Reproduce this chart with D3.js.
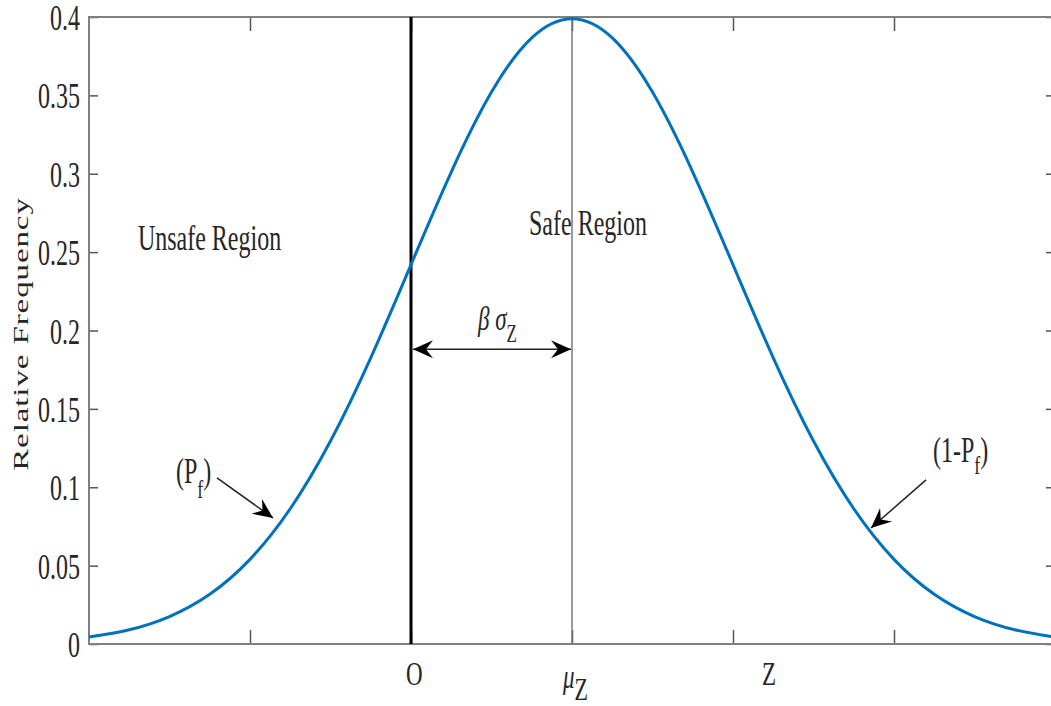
<!DOCTYPE html>
<html>
<head>
<meta charset="utf-8">
<script src="https://cdn.jsdelivr.net/npm/d3@7"></script>
<style>
  body { margin: 0; background: #fff; }
  svg { display: block; }
</style>
</head>
<body>
<script>
// curve (z in sigma units, relative frequency)
var zValues = [-3, -2.75, -2.5, -2.25, -2, -1.75, -1.5, -1.25, -1, -0.75, -0.5, -0.25, 0,
               0.25, 0.5, 0.75, 1, 1.25, 1.5, 1.75, 2, 2.25, 2.5, 2.75, 3];
var freqValues = [0.0044, 0.0091, 0.0175, 0.0317, 0.0540, 0.0863, 0.1295, 0.1826, 0.2420, 0.3011, 0.3521, 0.3867, 0.3989,
                  0.3867, 0.3521, 0.3011, 0.2420, 0.1826, 0.1295, 0.0863, 0.0540, 0.0317, 0.0175, 0.0091, 0.0044];
var yTicks = [0, 0.05, 0.1, 0.15, 0.2, 0.25, 0.3, 0.35, 0.4];
var yTickLabels = ['0', '0.05', '0.1', '0.15', '0.2', '0.25', '0.3', '0.35', '0.4'];
var xTicks = [-2, -1, 0, 1, 2];

var W = 1051, H = 706;
var K = 1.45; // vertical stretch of the text in the picture
var font = '"Liberation Serif","Times New Roman",serif';
var ink = '#262626';

var svg = d3.select('body').append('svg')
  .attr('width', W)
  .attr('height', H)
  .style('font-family', font);

var x = d3.scaleLinear().domain([-3, 3]).range([89, 1055]);
var y = d3.scaleLinear().domain([0, 0.4]).range([644, 17]);

var defs = svg.append('defs');
defs.append('marker')
  .attr('id', 'ah')
  .attr('markerUnits', 'userSpaceOnUse')
  .attr('viewBox', '-20 -10 20 20')
  .attr('refX', 0).attr('refY', 0)
  .attr('markerWidth', 20).attr('markerHeight', 20)
  .attr('orient', 'auto-start-reverse')
  .append('path')
  .attr('d', 'M0,0 L-20,-9 L-13,0 L-20,9 Z')
  .attr('fill', '#000');

// axes ticks (inward)
svg.append('g').attr('transform', 'translate(0,' + y(0) + ')')
  .call(d3.axisBottom(x).tickValues(xTicks).tickSize(-14).tickFormat(''));
svg.append('g').attr('transform', 'translate(0,' + y(0.4) + ')')
  .call(d3.axisTop(x).tickValues(xTicks).tickSize(-14).tickFormat(''));
svg.append('g').attr('transform', 'translate(' + x(-3) + ',0)')
  .call(d3.axisLeft(y).tickValues(yTicks).tickSize(-9).tickFormat(''));
svg.append('g').attr('transform', 'translate(' + x(3) + ',0)')
  .call(d3.axisRight(y).tickValues(yTicks).tickSize(-9).tickFormat(''));
svg.selectAll('.domain').remove();
svg.selectAll('.tick line').attr('stroke', '#555').attr('stroke-width', 1.5);

// frame
svg.append('rect')
  .attr('x', x(-3)).attr('y', y(0.4))
  .attr('width', x(3) - x(-3)).attr('height', y(0) - y(0.4))
  .attr('fill', 'none').attr('stroke', '#808080').attr('stroke-width', 2);

// reference lines at 0 and mu
svg.append('line')
  .attr('x1', x(-1)).attr('x2', x(-1)).attr('y1', y(0)).attr('y2', y(0.4))
  .attr('stroke', '#000').attr('stroke-width', 3);
svg.append('line')
  .attr('x1', x(0)).attr('x2', x(0)).attr('y1', y(0)).attr('y2', y(0.4))
  .attr('stroke', '#777').attr('stroke-width', 1.5);

// curve
var pts = zValues.map(function(z, i) { return [z, freqValues[i]]; });
svg.append('path')
  .datum(pts)
  .attr('fill', 'none')
  .attr('stroke', '#0072BD')
  .attr('stroke-width', 3)
  .attr('d', d3.line()
    .x(function(d) { return x(d[0]); })
    .y(function(d) { return y(d[1]); })
    .curve(d3.curveNatural));

// stretched text helper: parts = [text, size, baseline offset, italic]
function label(px, py, parts, anchor) {
  var t = svg.append('text')
    .attr('transform', 'translate(' + px + ',' + py + ') scale(1,' + K + ')')
    .attr('fill', ink)
    .attr('text-anchor', anchor || 'start');
  var prev = 0;
  parts.forEach(function(p) {
    t.append('tspan')
      .attr('font-size', p[1])
      .attr('font-style', p[3] ? 'italic' : 'normal')
      .attr('dy', (p[2] - prev) / K)
      .text(p[0]);
    prev = p[2];
  });
  return t;
}

// y tick labels
yTicks.forEach(function(v, i) {
  label(80, y(v) + 13, [[yTickLabels[i], 24, 0]], 'end');
});

// x labels
label(x(-0.98), 685, [['O', 23, 0]], 'middle');
label(x(-0.056), 688, [['\u03bc', 23, 0, true], ['Z', 22, 12]]);
label(x(1.18), 685, [['Z', 23, 0]]);

// y axis title
svg.append('text')
  .attr('transform', 'translate(28,334) scale(1,1.5) rotate(-90)')
  .attr('text-anchor', 'middle')
  .attr('font-size', 22)
  .attr('letter-spacing', 0.6)
  .attr('fill', ink)
  .text('Relative Frequency');

// region labels
label(x(-2.696), y(0.2515), [['Unsafe Region', 24, 0]]);
label(x(-0.267), y(0.261), [['Safe Region', 24, 0]]);

// beta sigma
label(x(-0.584), y(0.2004), [['\u03b2', 23, 0, true], [' \u03c3', 23, 0, true], ['Z', 17, 12]]);
svg.append('line')
  .attr('x1', x(-1) + 2).attr('x2', x(0) - 1)
  .attr('y1', y(0.188)).attr('y2', y(0.188))
  .attr('stroke', '#222').attr('stroke-width', 1.5)
  .attr('marker-start', 'url(#ah)')
  .attr('marker-end', 'url(#ah)');

// P_f annotations
label(x(-2.46), y(0.1027), [['(P', 24, 0], ['f', 18, 15], [')', 24, 0]]);
svg.append('line')
  .attr('x1', x(-2.205)).attr('y1', y(0.106))
  .attr('x2', x(-1.857)).attr('y2', y(0.0804))
  .attr('stroke', '#222').attr('stroke-width', 1.5)
  .attr('marker-end', 'url(#ah)');

label(x(2.242), y(0.1161), [['(1-P', 24, 0], ['f', 18, 12], [')', 24, 0]]);
svg.append('line')
  .attr('x1', x(2.199)).attr('y1', y(0.1047))
  .attr('x2', x(1.857)).attr('y2', y(0.074))
  .attr('stroke', '#222').attr('stroke-width', 1.5)
  .attr('marker-end', 'url(#ah)');
</script>
</body>
</html>
